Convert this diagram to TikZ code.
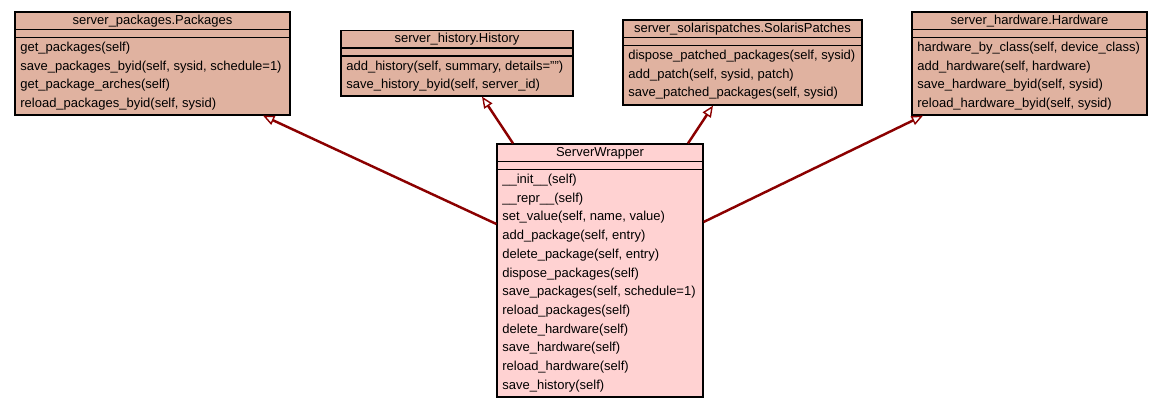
\documentclass[tikz,border=0pt]{standalone}
\usepackage{fontspec}
\setmainfont{Liberation Sans}
\usetikzlibrary{arrows.meta,fit}
\definecolor{basefill}{RGB}{224,178,160}
\definecolor{wrapfill}{RGB}{255,210,210}
\definecolor{edgered}{RGB}{139,0,0}
\tikzset{
	classbox/.style={draw=black, line width=0.7pt, inner sep=0pt},
	classtext/.style={inner sep=0pt, font=\fontsize{7.4pt}{9pt}\selectfont},
	inherit/.style={draw=edgered, line width=1.4pt, -{Triangle[open, length=6.5pt, width=5.5pt, line width=0.8pt, fill=white]}}
}
\def\umlclass(#1)[#2](#3,#4)(#5,#6)#7#8{
	\node[classbox, fill=#2, fit={(#3,#4) (#5,#6)}] (#1) {};
	\draw[line width=0.7pt] (#3,#4+17.5) -- (#5,#4+17.5);
	\draw[line width=0.7pt] (#3,#4+25.5) -- (#5,#4+25.5);
	\node[classtext] at ({(#3+#5)/2},#4+9) {#7};
	\foreach \m [count=\i from 0] in {#8}
		\node[classtext, anchor=west] at (#3+5,#4+36.2+18.7*\i) {\m};
}

\begin{document}
\begin{tikzpicture}[x=0.02cm, y=-0.02cm]
			%%%%% START %%%%%
			\useasboundingbox (0,0) rectangle (1163,408);
			
			\umlclass(pkg)[basefill](15,12)(290,115){server\_packages.Packages}{
				{get\_packages(self)},
				{save\_packages\_byid(self, sysid, schedule=1)},
				{get\_package\_arches(self)},
				{reload\_packages\_byid(self, sysid)}}
			
			\umlclass(hist)[basefill](341,30.5)(573,96){server\_history.History}{
				{add\_history(self, summary, details="")},
				{save\_history\_byid(self, server\_id)}}
			
			\umlclass(sol)[basefill](623,20)(862,105){server\_solarispatches.SolarisPatches}{
				{dispose\_patched\_packages(self, sysid)},
				{add\_patch(self, sysid, patch)},
				{save\_patched\_packages(self, sysid)}}
			
			\umlclass(hw)[basefill](912,12)(1147,115){server\_hardware.Hardware}{
				{hardware\_by\_class(self, device\_class)},
				{add\_hardware(self, hardware)},
				{save\_hardware\_byid(self, sysid)},
				{reload\_hardware\_byid(self, sysid)}}
			
			\umlclass(wrap)[wrapfill](497,144)(703,397){ServerWrapper}{
				{\_\_init\_\_(self)},
				{\_\_repr\_\_(self)},
				{set\_value(self, name, value)},
				{add\_package(self, entry)},
				{delete\_package(self, entry)},
				{dispose\_packages(self)},
				{save\_packages(self, schedule=1)},
				{reload\_packages(self)},
				{delete\_hardware(self)},
				{save\_hardware(self)},
				{reload\_hardware(self)},
				{save\_history(self)}}
			
			\draw[inherit] (wrap.west |- 0,224) -- (pkg.south -| 263,0);
			\draw[inherit] (wrap.north -| 513,0) -- (hist.south -| 482,0);
			\draw[inherit] (wrap.north -| 688,0) -- (sol.south -| 713,0);
			\draw[inherit] (wrap.east |- 0,222) -- (hw.south -| 923,0);
			%%%%% END %%%%%
\end{tikzpicture}
\end{document}
